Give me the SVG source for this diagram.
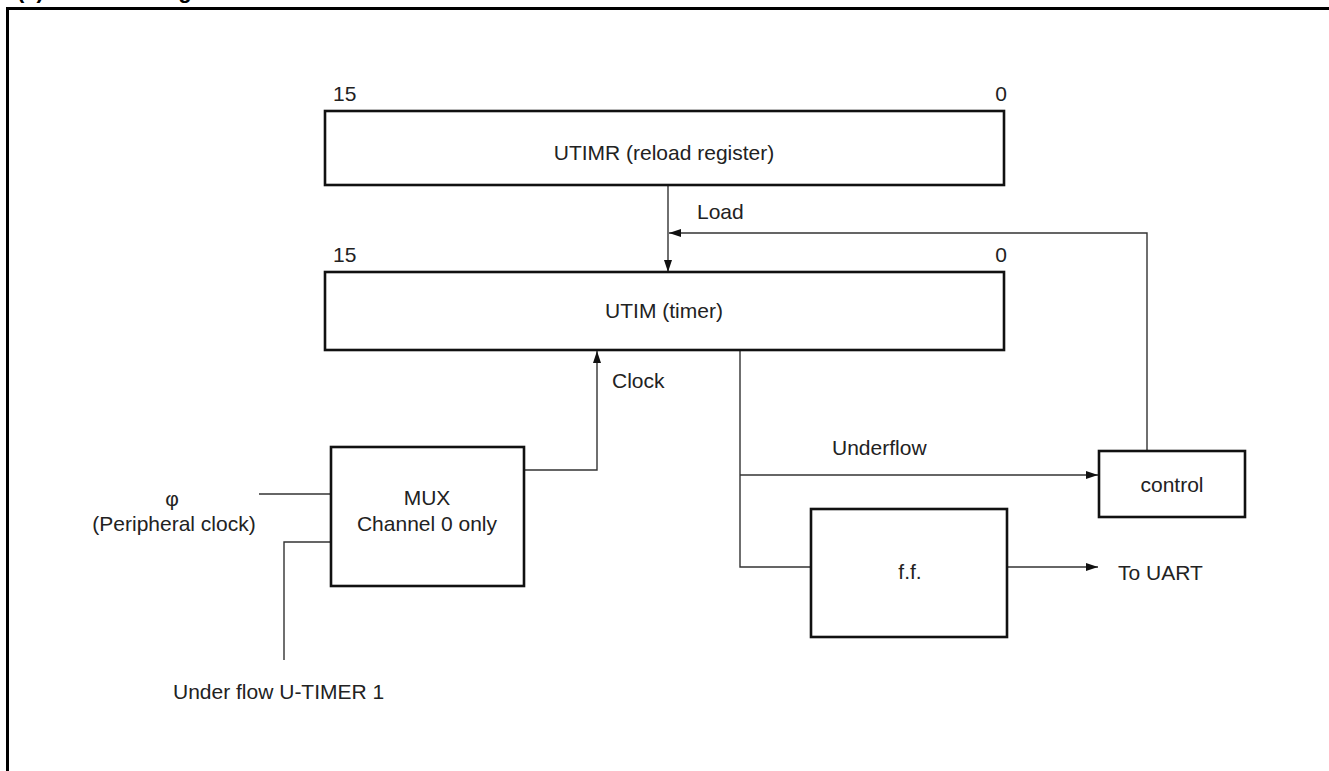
<svg xmlns="http://www.w3.org/2000/svg" width="1329" height="771" viewBox="0 0 1329 771">
<style>
text{font-family:"Liberation Sans",Arial,sans-serif;font-size:21px;fill:#222}
.t{font-weight:bold;font-size:22px;fill:#000}
.box{fill:#fff;stroke:#111;stroke-width:2.6}
.c{fill:none;stroke:#333;stroke-width:1.4}
.frame{fill:none;stroke:#000;stroke-width:3}
.m{text-anchor:middle}
.e{text-anchor:end}
</style>
<defs>
<marker id="arr" viewBox="0 0 12 8" refX="12" refY="4" markerWidth="12" markerHeight="8" markerUnits="userSpaceOnUse" orient="auto">
<path d="M0,0 L12,4 L0,8 Z" fill="#111"/>
</marker>
</defs>
<g id="title">
<text class="t" x="17" y="-2">(1)</text>
<text class="t" x="78" y="-2">Block Diagram</text>
</g>
<path class="frame" d="M7.5,771 V8.5 H1329"/>
<g id="connectors">
<path class="c" d="M668,185 V272" marker-end="url(#arr)"/>
<path class="c" d="M1147,451 V233 H669" marker-end="url(#arr)"/>
<path class="c" d="M524,470 H597 V351" marker-end="url(#arr)"/>
<path class="c" d="M259,494 H331"/>
<path class="c" d="M331,542 H284 V660"/>
<path class="c" d="M740,350 V567 H811"/>
<path class="c" d="M740,475 H1098" marker-end="url(#arr)"/>
<path class="c" d="M1007,567 H1098" marker-end="url(#arr)"/>
<text x="697" y="219">Load</text>
<text x="612" y="388">Clock</text>
<text x="832" y="455">Underflow</text>
</g>
<g id="utimr">
<text x="333" y="101">15</text>
<text class="e" x="1007" y="101">0</text>
<rect class="box" x="325" y="111" width="679" height="74"/>
<text class="m" x="664" y="160">UTIMR (reload register)</text>
</g>
<g id="utim">
<text x="333" y="262">15</text>
<text class="e" x="1007" y="262">0</text>
<rect class="box" x="325" y="272" width="679" height="78"/>
<text class="m" x="664" y="318">UTIM (timer)</text>
</g>
<g id="mux">
<rect class="box" x="331" y="447" width="193" height="139"/>
<text class="m" x="427" y="505">MUX</text>
<text class="m" x="427" y="531">Channel 0 only</text>
</g>
<g id="phi">
<text class="m" x="172" y="506">φ</text>
<text class="m" x="174" y="531">(Peripheral clock)</text>
</g>
<g id="underflow-utimer1">
<text x="173" y="699">Under flow U-TIMER 1</text>
</g>
<g id="ff">
<rect class="box" x="811" y="509" width="196" height="128"/>
<text class="m" x="910" y="579">f.f.</text>
</g>
<g id="to-uart">
<text x="1118" y="580">To UART</text>
</g>
<g id="control">
<rect class="box" x="1099" y="451" width="146" height="66"/>
<text class="m" x="1172" y="492">control</text>
</g>
</svg>
